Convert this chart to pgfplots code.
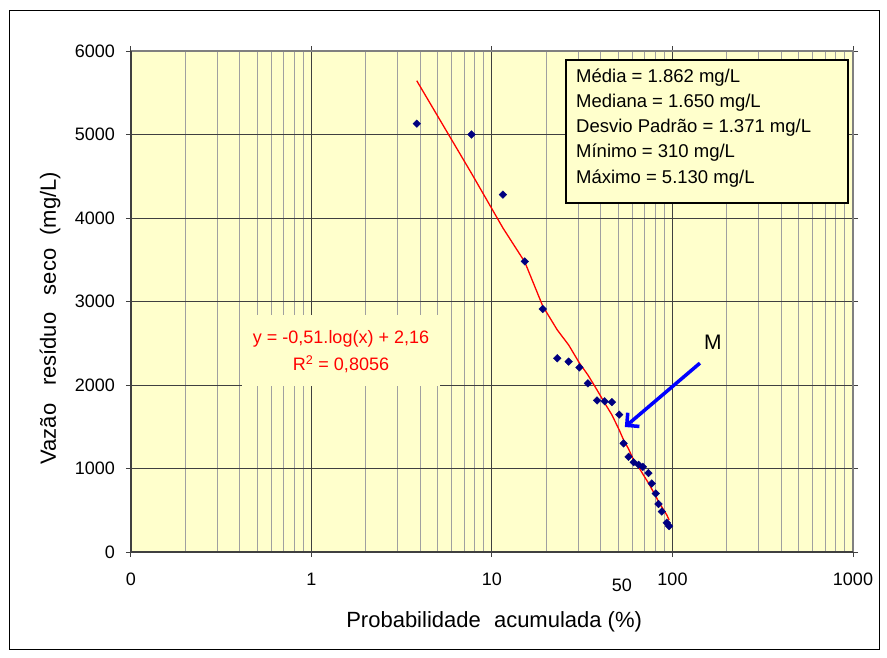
\documentclass[border=0pt]{standalone}
\usepackage{fontspec}
\setmainfont{Liberation Sans}
\usepackage{pgfplots}
\pgfplotsset{compat=1.18}
\usetikzlibrary{arrows.meta}
\definecolor{plotbg}{HTML}{FFFFCC}
\definecolor{navy}{HTML}{000080}
\definecolor{gridmajor}{HTML}{404040}
\definecolor{gridminor}{HTML}{A0A0A0}
\definecolor{arrowblue}{HTML}{0000FF}

\begin{document}
\begin{tikzpicture}[x=1pt,y=1pt]
% page size and outer frame
\path[fill=white] (0,0) rectangle (887,657);
\draw[black, line width=1pt] (9.5,646) rectangle (879.5,8);

\begin{axis}[
    at={(131pt,105pt)}, anchor=south west,
    scale only axis, width=722pt, height=501pt,
    xmode=log, log basis x=10,
    xmin=0.1, xmax=1000, ymin=0, ymax=6000,
    xtick={0.1,1,10,100,1000},
    xticklabels={0,1,10,100,1000},
    minor xtick={0.2,0.3,0.4,0.5,0.6,0.7,0.8,0.9,
                 2,3,4,5,6,7,8,9,
                 20,30,40,50,60,70,80,90,
                 200,300,400,500,600,700,800,900},
    ytick={0,1000,2000,3000,4000,5000,6000},
    scaled y ticks=false,
    /pgf/number format/.cd, 1000 sep={}, assume math mode=true, /pgfplots/.cd,
    tick label style={font=\fontsize{18}{20}\selectfont, inner sep=0pt},
    yticklabel style={xshift=-11pt},
    xticklabel style={yshift=-16pt},
    tick align=outside, major tick length=5pt, minor tick length=0pt,
    tick style={gridmajor, line width=1pt},
    grid=both,
    major grid style={gridmajor, line width=1pt},
    minor grid style={gridminor, line width=1pt},
    axis background/.style={fill=plotbg},
    axis line style={draw=none},
    clip=false,
    xlabel={Probabilidade\hspace{0.6em}acumulada (\%)},
    ylabel={Vazão\hspace{0.8em}resíduo\hspace{0.8em}seco\hspace{0.6em}(mg/L)},
    label style={font=\fontsize{22}{24}\selectfont},
    xlabel style={at={(axis description cs:0.503,-0.14)}, anchor=center},
    ylabel style={at={(axis description cs:-0.112,0.467)}, anchor=center},
]
% observed values
\addplot[only marks, mark=square*, mark size=2.7pt, mark options={rotate=45}, navy] coordinates {
(3.83,5130) (7.7,5000) (11.5,4280) (15.2,3480) (19.1,2910)
(23.0,2320) (26.6,2280) (30.5,2210) (34.0,2020) (38.2,1815)
(42.1,1805) (46.2,1795) (50.7,1645) (53.6,1300) (57.1,1140)
(60.9,1075) (64.9,1045) (68.5,1020) (73.6,945) (76.8,820)
(80.8,700) (83.7,575) (87.3,485) (93.0,350) (95.8,310)
};
% fitted trend
\addplot[red, line width=1.3pt] coordinates {
(3.83,5644) (7.7,4535) (11.5,3880) (15.2,3473) (19.1,2946)
(23.0,2659) (26.6,2479) (30.5,2263) (34.0,2120) (38.2,1940)
(42.1,1784) (46.2,1641) (50.7,1461) (53.6,1341) (57.1,1234)
(60.9,1102) (64.9,1018) (68.5,934) (73.6,826) (76.8,754)
(80.8,671) (83.7,599) (87.3,539) (93.0,443) (95.8,383)
};
% plot area border
\draw[gray, line width=2pt] (rel axis cs:0,1) -- (rel axis cs:1,1) -- (rel axis cs:1,0);
\draw[gridmajor, line width=1.5pt] (rel axis cs:0,1) -- (rel axis cs:0,0) -- (rel axis cs:1,0);
% equation label
\fill[plotbg] (rel axis cs:0.1537,0.4731) rectangle (rel axis cs:0.4280,0.3313);
\node[red, anchor=base, font=\fontsize{18}{20}\selectfont] at (rel axis cs:0.2909,0.4152) {y = -0,51.log(x) + 2,16};
\node[red, anchor=base, font=\fontsize{18}{20}\selectfont] at (rel axis cs:0.2909,0.3613) {R\textsuperscript{2} = 0,8056};
% statistics box
\draw[black, line width=2pt, fill=plotbg] (rel axis cs:0.6025,0.9820) rectangle (rel axis cs:0.9931,0.6966);
\begin{scope}[every node/.style={anchor=base west, inner sep=0pt, font=\fontsize{18.5}{20}\selectfont}]
\node at (rel axis cs:0.6163,0.9381) {Média = 1.862 mg/L};
\node at (rel axis cs:0.6163,0.8876) {Mediana = 1.650 mg/L};
\node at (rel axis cs:0.6163,0.8371) {Desvio Padrão = 1.371 mg/L};
\node at (rel axis cs:0.6163,0.7866) {Mínimo = 310 mg/L};
\node at (rel axis cs:0.6163,0.7361) {Máximo = 5.130 mg/L};
\end{scope}
% median marker
\draw[arrowblue, line width=3.5pt, -{Straight Barb[length=9pt, width=18pt]}] (rel axis cs:0.788,0.377) -- (rel axis cs:0.684,0.2495);
\node[font=\fontsize{21}{24}\selectfont] at (rel axis cs:0.806,0.419) {M};
\node[font=\fontsize{18}{20}\selectfont] at (rel axis cs:0.680,-0.0659) {50};
\end{axis}
\end{tikzpicture}
\end{document}
